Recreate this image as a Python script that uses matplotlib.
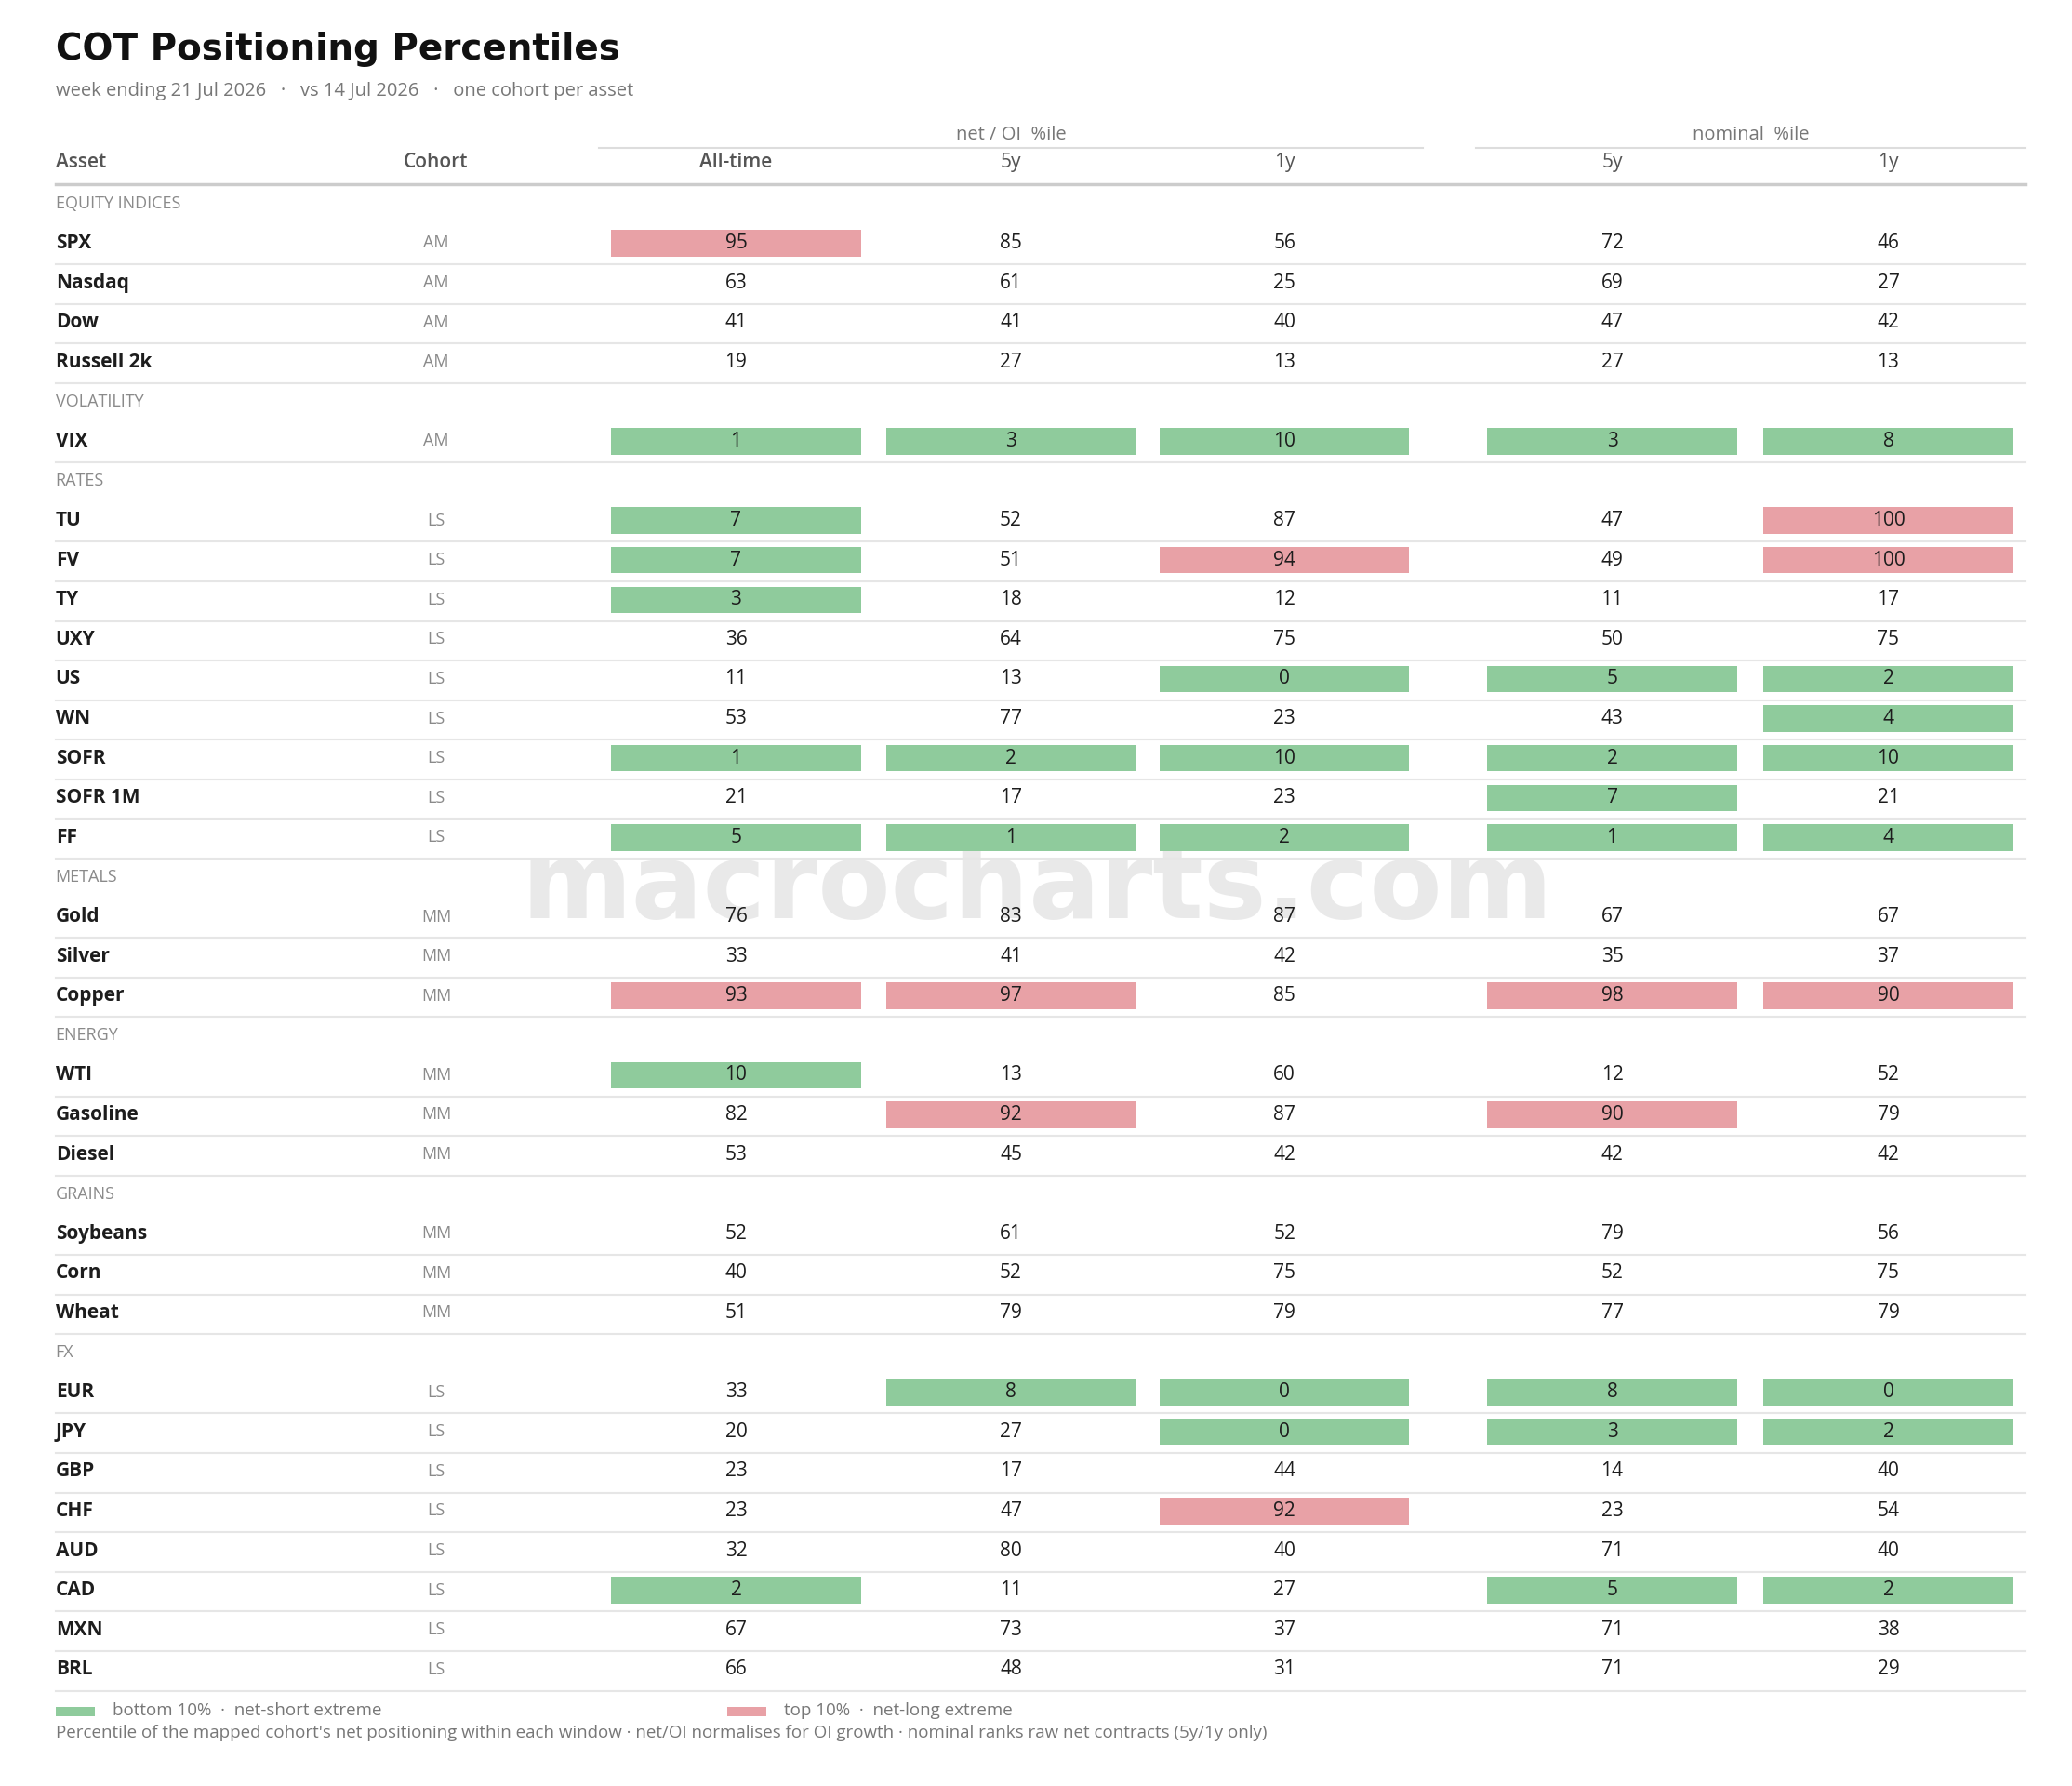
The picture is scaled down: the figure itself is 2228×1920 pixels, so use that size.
import matplotlib.pyplot as plt
from matplotlib.patches import Rectangle

plt.rcParams["font.family"] = ["Open Sans", "DejaVu Sans"]

sections = ["EQUITY INDICES", "VOLATILITY", "RATES", "METALS", "ENERGY", "GRAINS", "FX"]
section_assets = [
    ["SPX", "Nasdaq", "Dow", "Russell 2k"],
    ["VIX"],
    ["TU", "FV", "TY", "UXY", "US", "WN", "SOFR", "SOFR 1M", "FF"],
    ["Gold", "Silver", "Copper"],
    ["WTI", "Gasoline", "Diesel"],
    ["Soybeans", "Corn", "Wheat"],
    ["EUR", "JPY", "GBP", "CHF", "AUD", "CAD", "MXN", "BRL"],
]
section_cohort = ["AM", "AM", "LS", "MM", "MM", "MM", "LS"]

all_time = [95, 63, 41, 19, 1, 7, 7, 3, 36, 11, 53, 1, 21, 5, 76, 33, 93, 10, 82, 53,
            52, 40, 51, 33, 20, 23, 23, 32, 2, 67, 66]
oi_5y = [85, 61, 41, 27, 3, 52, 51, 18, 64, 13, 77, 2, 17, 1, 83, 41, 97, 13, 92, 45,
         61, 52, 79, 8, 27, 17, 47, 80, 11, 73, 48]
oi_1y = [56, 25, 40, 13, 10, 87, 94, 12, 75, 0, 23, 10, 23, 2, 87, 42, 85, 60, 87, 42,
         52, 75, 79, 0, 0, 44, 92, 40, 27, 37, 31]
nom_5y = [72, 69, 47, 27, 3, 47, 49, 11, 50, 5, 43, 2, 7, 1, 67, 35, 98, 12, 90, 42,
          79, 52, 77, 8, 3, 14, 23, 71, 5, 71, 71]
nom_1y = [46, 27, 42, 13, 8, 100, 100, 17, 75, 2, 4, 10, 21, 4, 67, 37, 90, 52, 79, 42,
          56, 75, 79, 0, 2, 40, 54, 40, 2, 38, 29]

columns = [all_time, oi_5y, oi_1y, nom_5y, nom_1y]
col_x = [557, 765, 972, 1220, 1429]
col_labels = ["All-time", "5y", "1y", "5y", "1y"]

GREEN = "#8fcb9c"
RED = "#e8a1a6"
DARK = "#1d1d1d"
GRAY = "#777777"
LINE = "#e6e6e6"

W, H = 1568, 1351
fig = plt.figure(figsize=(22.28, 19.2), dpi=100)
ax = fig.add_axes([0, 0, 1, 1])
ax.set_xlim(0, W)
ax.set_ylim(H, 0)
ax.axis("off")

fs = 15
ax.text(42, 37, "COT Positioning Percentiles", fontsize=28, fontweight="heavy",
        color="#111111", va="center", family=["DejaVu Sans"])
ax.text(42, 69, "week ending 21 Jul 2026   ·   vs 14 Jul 2026   ·   one cohort per asset",
        fontsize=14.5, color=GRAY, va="center")

# group headers
for label, x0, x1 in [("net / OI  %ile", 453, 1077), ("nominal  %ile", 1117, 1533)]:
    ax.text((x0 + x1) / 2, 102, label, fontsize=14.5, color=GRAY, ha="center", va="center")
    ax.plot([x0, x1], [112, 112], color="#dddddd", lw=1.5)

ax.text(42, 123, "Asset", fontsize=fs, color="#555555", fontweight="semibold", va="center")
ax.text(330, 123, "Cohort", fontsize=fs, color="#555555", fontweight="semibold",
        ha="center", va="center")
for x, lab in zip(col_x, col_labels):
    ax.text(x, 123, lab, fontsize=fs, color="#555555",
            fontweight="semibold" if lab == "All-time" else "normal",
            ha="center", va="center")
ax.plot([42, 1533], [139, 139], color="#cccccc", lw=2.5)

y = 154
step = 29.97
i = 0
for sec, assets, coh in zip(sections, section_assets, section_cohort):
    ax.text(42, y, sec, fontsize=13, color="#8a8a8a", va="center")
    y += step
    for a in assets:
        ax.text(42, y, a, fontsize=fs, color=DARK, fontweight="bold", va="center")
        ax.text(330, y, coh, fontsize=13, color="#8a8a8a", ha="center", va="center")
        for x, col in zip(col_x, columns):
            v = col[i]
            if v <= 10:
                ax.add_patch(Rectangle((x - 94.5, y - 10), 189, 20, color=GREEN, lw=0))
            elif v >= 90:
                ax.add_patch(Rectangle((x - 94.5, y - 10), 189, 20, color=RED, lw=0))
            ax.text(x, y, str(v), fontsize=fs, color=DARK, ha="center", va="center")
        ax.plot([42, 1533], [y + 16, y + 16], color=LINE, lw=1.5)
        y += step
        i += 1

ax.text(785, 672, "macrocharts.com", fontsize=82, fontweight="bold", color="#d8d8d8",
        alpha=0.55, ha="center", va="center", zorder=0.5, family=["DejaVu Sans"])

ax.add_patch(Rectangle((42, 1291), 30, 7, color=GREEN, lw=0))
ax.text(85, 1294, "bottom 10%  ·  net-short extreme", fontsize=13.5, color=GRAY, va="center")
ax.add_patch(Rectangle((550, 1291), 30, 7, color=RED, lw=0))
ax.text(593, 1294, "top 10%  ·  net-long extreme", fontsize=13.5, color=GRAY, va="center")
ax.text(42, 1311, "Percentile of the mapped cohort's net positioning within each window · "
        "net/OI normalises for OI growth · nominal ranks raw net contracts (5y/1y only)",
        fontsize=13.5, color=GRAY, va="center")

fig.savefig("out.png", dpi=100, facecolor="white")
